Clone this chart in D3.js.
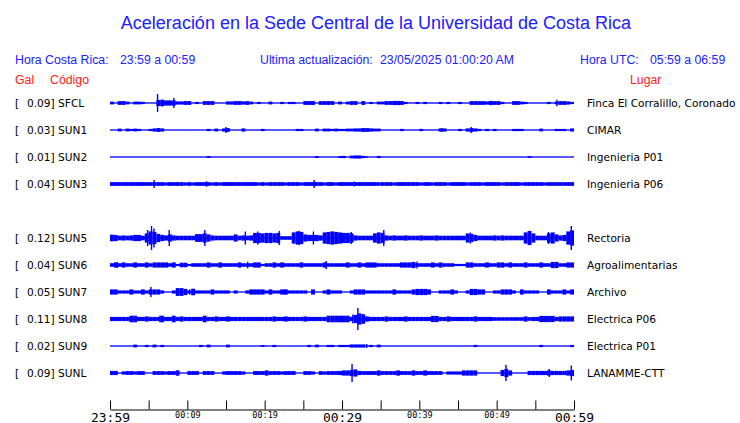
<!DOCTYPE html>
<html>
<head>
<meta charset="utf-8">
<script src="https://cdn.jsdelivr.net/npm/d3@7"></script>
<style>
body { margin: 0; background: #fff; }
svg { display: block; }
</style>
</head>
<body>
<div id="chart"></div>
<script>
// estaciones (de arriba a abajo), slot 4 queda vacio
const codes  = ['SFCL', 'SUN1', 'SUN2', 'SUN3', 'SUN5', 'SUN6', 'SUN7', 'SUN8', 'SUN9', 'SUNL'];
const places = ['Finca El Corralillo, Coronado', 'CIMAR', 'Ingenieria P01', 'Ingenieria P06', 'Rectoria',
                'Agroalimentarias', 'Archivo', 'Electrica P06', 'Electrica P01', 'LANAMME-CTT'];
const peaks  = [0.09, 0.03, 0.01, 0.04, 0.12, 0.04, 0.05, 0.11, 0.02, 0.09]; // Gal
const slots  = [0, 1, 2, 3, 5, 6, 7, 8, 9, 10];

const tickMinutes = [0, 5, 10, 15, 20, 25, 30, 35, 40, 45, 50, 55, 60];
const tickLabels  = { 0: '23:59', 10: '00:09', 20: '00:19', 30: '00:29', 40: '00:39', 50: '00:49', 60: '00:59' };
const bigLabels   = [0, 30, 60];

// envolvente por medio minuto (mGal)
const ampSFCL = [8,0,13,13,8,0,8,8,5,0, 0,0,25,27,20,20,20,10,10,13, 13,0,5,0,13,13,13,0,0,0, 10,10,13,13,10,13,8,0,5,0,
                 0,8,0,0,5,0,5,5,0,0, 13,13,13,0,13,13,13,13,0,8, 0,8,13,13,0,13,0,5,0,8, 8,13,13,15,15,13,5,0,0,5,
                 0,5,0,0,0,5,0,5,0,0, 5,0,0,13,13,13,13,10,15,13, 13,5,0,0,13,13,8,5,0,0, 0,0,0,5,0,8,13,13,10,5];
const ampSUN1 = [0,0,8,0,8,5,8,5,0,0, 5,10,13,10,0,0,0,0,0,0, 0,0,0,0,0,5,0,8,0,10, 13,0,0,0,10,0,0,0,0,5,
                 0,0,0,0,0,0,0,0,5,5, 0,0,0,8,0,8,8,5,8,5, 5,8,8,10,10,13,13,10,8,8, 0,0,0,0,0,5,0,0,0,0,
                 5,0,0,0,0,10,10,0,0,0, 5,0,10,13,10,5,0,5,0,5, 0,0,0,0,5,5,5,0,0,0, 0,8,0,0,0,5,5,5,0,10];
const ampSUN2 = [0,0,0,0,0,0,0,0,0,0, 0,0,0,0,0,0,0,0,0,0, 0,0,0,0,0,3,0,0,0,0, 0,0,0,0,0,0,0,0,0,0,
                 0,0,0,0,0,0,0,0,0,0, 0,0,0,3,0,0,0,0,0,3, 5,0,8,10,10,5,0,0,0,5, 0,0,0,0,0,0,0,0,0,0,
                 0,0,0,0,0,0,0,0,0,0, 0,0,0,0,0,0,0,0,0,0, 0,0,0,0,0,0,0,0,3,0, 0,0,0,0,0,0,0,0,0,0];
const ampSUN3 = [13,13,13,13,13,13,13,13,13,13, 13,13,13,13,10,13,13,13,13,10, 13,10,13,13,13,13,10,13,10,13, 13,13,13,13,13,13,13,13,10,13,
                 10,13,13,13,13,10,13,13,13,10, 13,13,13,13,13,10,13,13,10,13, 13,13,13,13,13,13,13,13,13,10, 13,13,13,10,13,13,13,13,13,13,
                 10,13,13,10,13,13,13,10,13,13, 13,13,10,13,13,13,10,13,13,13, 13,10,13,13,13,13,10,13,13,13, 13,13,10,13,13,13,13,13,13,13];
const ampSUN5 = [27,25,17,20,17,20,25,25,17,40, 60,55,35,25,20,30,20,17,17,17, 17,17,33,33,40,30,20,17,17,17, 17,17,30,17,20,17,20,45,45,40,
                 45,45,40,45,12,12,12,50,60,55, 30,25,25,25,20,50,55,60,55,50, 45,45,40,20,17,17,17,17,40,50, 45,20,17,20,17,17,20,17,17,17,
                 20,17,17,17,20,17,17,17,17,17, 17,17,40,35,25,17,17,17,17,20, 17,20,17,17,17,17,17,50,65,40, 17,17,17,40,50,30,20,25,60,70];
const ampSUN6 = [12,20,12,20,12,12,20,12,12,20, 12,20,20,20,20,12,20,5,17,17, 5,12,12,12,12,20,12,12,20,12, 12,12,12,20,12,12,12,20,20,5,
                 12,12,20,12,20,12,12,12,12,20, 12,12,12,12,12,20,12,12,12,12, 12,20,12,12,20,12,20,20,20,12, 12,12,12,12,12,20,20,20,25,12,
                 12,12,12,20,12,20,12,12,12,5, 5,5,20,20,12,12,12,20,12,12, 20,20,12,20,12,12,12,20,12,12, 12,20,12,12,25,25,12,12,20,20];
const ampSUN7 = [20,20,10,10,10,20,10,10,20,10, 20,20,20,10,0,0,10,33,33,25, 10,27,10,10,10,10,20,10,10,10, 10,0,10,0,0,10,20,20,20,20,
                 10,20,10,10,20,20,10,10,10,10, 10,0,20,0,0,10,20,10,10,10, 0,0,10,20,20,20,10,10,10,10, 10,10,10,20,10,10,10,10,20,25,
                 25,25,20,0,0,10,10,10,20,10, 0,0,10,25,25,20,20,0,0,10, 10,20,20,20,10,0,20,10,10,10, 10,0,0,20,10,10,10,20,10,20];
const ampSUN8 = [15,15,15,15,15,27,27,15,15,20, 15,15,15,27,15,15,27,15,20,15, 15,15,15,15,27,15,15,20,15,15, 20,15,15,15,15,15,15,15,15,15,
                 15,15,20,15,15,20,15,15,15,15, 20,15,15,15,15,15,27,27,27,27, 27,27,15,35,50,40,20,15,15,15, 15,20,15,15,15,15,20,15,15,15,
                 15,15,15,25,25,15,15,20,15,15, 15,15,15,15,20,15,15,15,15,12, 12,12,12,12,12,12,12,20,12,15, 15,25,25,25,25,15,20,20,20,20];
const ampSUN9 = [0,0,0,0,0,0,8,0,0,5, 0,8,0,5,0,0,0,0,0,0, 0,0,0,5,0,8,0,0,0,0, 8,0,0,0,0,0,0,0,0,3,
                 0,0,5,0,0,0,0,0,0,0, 0,5,0,8,0,0,5,5,0,5, 5,5,10,10,10,10,0,5,0,8, 0,0,0,0,0,0,0,0,0,0,
                 0,0,0,0,0,0,0,0,0,0, 0,0,0,0,5,0,0,0,0,0, 0,0,0,0,0,0,0,0,0,0, 0,5,0,0,0,0,0,0,0,5];
const ampSUNL = [15,15,0,10,13,13,10,13,13,0, 0,13,13,13,10,13,13,20,0,0, 13,13,13,0,13,13,13,0,0,10, 13,13,13,13,10,0,0,13,13,13,
                 20,13,13,13,10,13,13,13,0,0, 13,13,10,0,13,10,13,13,13,15, 20,20,25,30,15,13,13,13,13,20, 13,13,13,13,20,13,13,13,20,13,
                 13,20,13,13,13,13,0,10,10,10, 10,20,20,20,20,0,0,0,0,0, 0,25,35,20,0,0,0,0,15,15, 15,15,15,20,15,15,15,15,20,25];

// picos angostos: [minuto, mGal]
const spikeSFCL = [[6.15, 90], [8.26, 50], [57.8, 33]];
const spikeSUN1 = [[6.3, 20], [15.0, 30], [32.7, 20], [42.9, 20], [46.7, 30]];
const spikeSUN2 = [[33.2, 10]];
const spikeSUN3 = [[5.7, 40], [12.5, 27], [26.4, 40], [27.4, 20], [28.6, 20], [29.6, 18], [31.6, 25], [34.7, 20], [39.2, 15], [42.6, 15], [54.2, 15]];
const spikeSUN5 = [[4.86, 80], [5.37, 120], [5.68, 95], [7.66, 80], [12.26, 80], [17.5, 65], [19.1, 65], [21.9, 70], [24.5, 70],
                   [26.3, 65], [28.1, 60], [31.2, 60], [35.4, 80], [46.6, 55], [54.2, 70], [56.7, 60], [59.65, 120]];
const spikeSUN6 = [[0.95, 30], [17.8, 33], [27.96, 40], [39.7, 35]];
const spikeSUN7 = [[5.29, 50], [10.3, 27], [22.7, 25], [28.3, 20]];
const spikeSUN8 = [[6.45, 33], [31.4, 45], [32.05, 110], [32.7, 50]];
const spikeSUN9 = [[33.2, 20]];
const spikeSUNL = [[8.7, 27], [18.9, 20], [31.3, 90], [51.2, 80], [56.8, 40], [59.65, 75]];

const ampList   = [ampSFCL, ampSUN1, ampSUN2, ampSUN3, ampSUN5, ampSUN6, ampSUN7, ampSUN8, ampSUN9, ampSUNL];
const spikeList = [spikeSFCL, spikeSUN1, spikeSUN2, spikeSUN3, spikeSUN5, spikeSUN6, spikeSUN7, spikeSUN8, spikeSUN9, spikeSUNL];
const binMin = 0.5;

const width = 740, height = 423;
const blue = '#0000ff', textBlue = '#2020ff', red = '#ff2020';

const svg = d3.select('#chart').append('svg')
    .attr('width', width)
    .attr('height', height)
    .style('background', '#fff');

const x = d3.scaleLinear().domain([0, 60]).range([110, 574]);
const y = d3.scaleLinear().domain([0, 10]).range([103, 373]);   // slot -> linea base
const amp = d3.scaleLinear().domain([0, 120]).range([0, 12]);   // mGal -> px

// titulo y encabezados
svg.append('text')
    .attr('x', 376).attr('y', 29)
    .attr('text-anchor', 'middle')
    .style('font', '18px "Liberation Sans", Arial, sans-serif')
    .attr('fill', textBlue)
    .text('Aceleración en la Sede Central de la Universidad de Costa Rica');

const header = [
    [15, 64, 'Hora Costa Rica:', textBlue], [120, 64, '23:59 a 00:59', textBlue],
    [260, 64, 'Ultima actualización:', textBlue], [380, 64, '23/05/2025 01:00:20 AM', textBlue],
    [580, 64, 'Hora UTC:', textBlue], [650, 64, '05:59 a 06:59', textBlue],
    [15, 84, 'Gal', red], [50, 84, 'Código', red], [630, 84, 'Lugar', red]
];
svg.append('g').selectAll('text')
    .data(header)
    .enter()
    .append('text')
    .attr('x', d => d[0])
    .attr('y', d => d[1])
    .attr('fill', d => d[3])
    .style('font', '12.3px "Liberation Sans", Arial, sans-serif')
    .text(d => d[2]);

// filas
const rows = svg.append('g').selectAll('.row')
    .data(codes.map((c, i) => ({ code: c, place: places[i], peak: peaks[i], slot: slots[i], amp: ampList[i], spikes: spikeList[i] })))
    .enter()
    .append('g')
    .attr('class', 'row')
    .attr('transform', d => `translate(0, ${y(d.slot)})`);

const labelFont = '10.6px "DejaVu Sans", sans-serif';
rows.append('text').attr('x', 15).attr('y', 4).style('font', labelFont).text('[');
rows.append('text').attr('x', 27).attr('y', 4).style('font', labelFont)
    .text(d => `${d.peak.toFixed(2)}] ${d.code}`);
rows.append('text').attr('x', 587).attr('y', 4).style('font', labelFont)
    .text(d => d.place);

// linea base
rows.append('rect')
    .attr('x', x(0)).attr('width', x(60) - x(0))
    .attr('y', -0.65).attr('height', 1.3)
    .attr('fill', blue);

// envolvente
rows.each(function(d) {
    const g = d3.select(this);
    g.selectAll('.bin')
        .data(d.amp.map((a, i) => ({ t: i * binMin, a })).filter(b => b.a > 0))
        .enter()
        .append('rect')
        .attr('class', 'bin')
        .attr('x', b => x(b.t))
        .attr('width', x(binMin) - x(0))
        .attr('y', b => -(amp(b.a) + 0.6))
        .attr('height', b => 2 * (amp(b.a) + 0.6))
        .attr('fill', blue);

    g.selectAll('.spike')
        .data(d.spikes)
        .enter()
        .append('rect')
        .attr('class', 'spike')
        .attr('x', s => x(s[0]) - 0.7)
        .attr('width', 1.4)
        .attr('y', s => -amp(s[1]))
        .attr('height', s => 2 * amp(s[1]))
        .attr('fill', blue);
});

// eje de tiempo
const axis = d3.axisBottom(x)
    .tickValues(tickMinutes)
    .tickSize(-9)
    .tickSizeOuter(0)
    .tickPadding(2)
    .tickFormat(m => tickLabels[m] || '');

const axisG = svg.append('g')
    .attr('transform', 'translate(0, 409.5)')
    .call(axis);
axisG.select('.domain').attr('stroke', '#000');
axisG.selectAll('.tick line').attr('stroke', '#000');
axisG.selectAll('.tick text')
    .attr('fill', '#000')
    .attr('dy', null)
    .attr('y', m => bigLabels.includes(m) ? 12 : 8)
    .style('font-family', '"DejaVu Sans Mono", monospace')
    .style('font-weight', 'normal')
    .style('font-size', m => bigLabels.includes(m) ? '13px' : '8.5px');
</script>
</body>
</html>
